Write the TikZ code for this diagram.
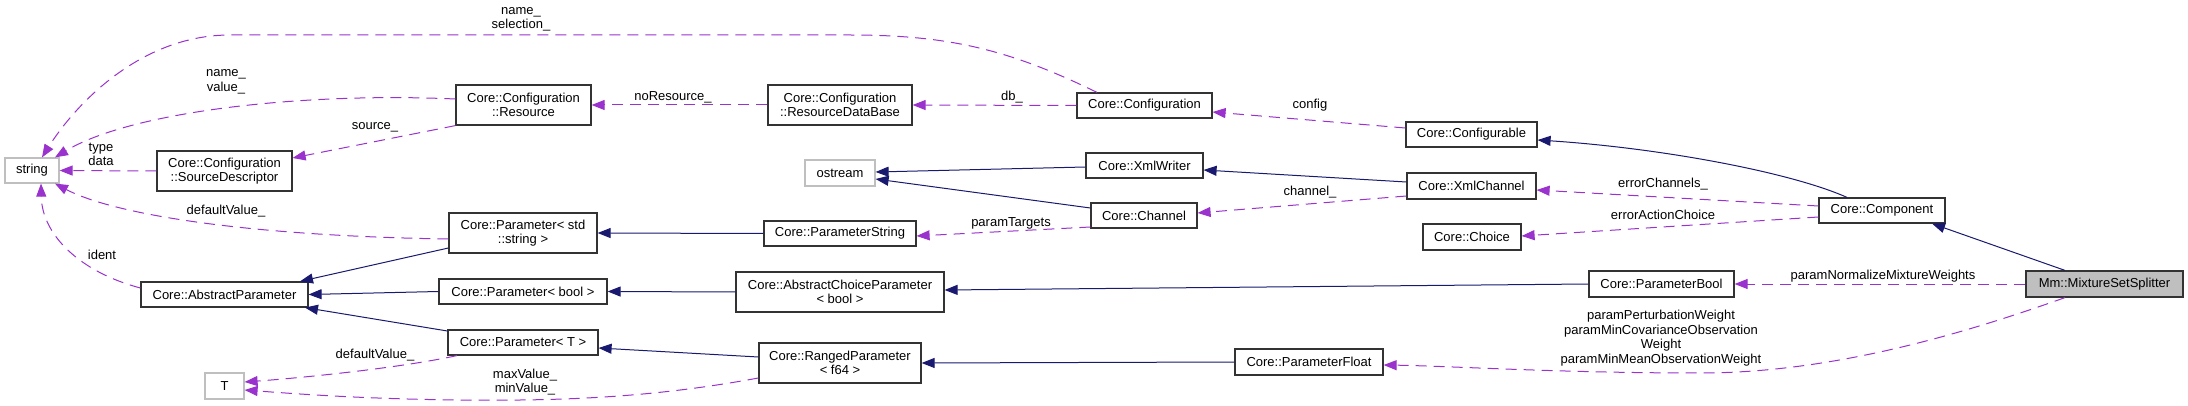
\documentclass[tikz,border=0pt]{standalone}
\usepackage{fontspec}
\setmainfont{Liberation Sans}
\usetikzlibrary{arrows.meta}
\definecolor{dorchid}{HTML}{9A32CD}
\definecolor{mnavy}{HTML}{191970}
\definecolor{nodegray}{HTML}{BFBFBF}
\tikzset{
  txt/.style={font=\fontsize{13}{14.5}\selectfont, align=center},
  cls/.style={txt, draw=black!80, line width=1.2pt, fill=white, inner sep=0pt},
  extcls/.style={txt, draw=nodegray, line width=1.2pt, fill=white, inner sep=0pt},
  maincls/.style={cls, fill=nodegray},
  lbl/.style={txt, inner sep=0pt},
  dep/.style={draw=dorchid, line width=1pt, dash pattern=on 11pt off 7pt,
    -{Triangle[length=13pt,width=10pt,fill=dorchid]}},
  inh/.style={draw=mnavy, line width=1pt,
    -{Triangle[length=13pt,width=10pt,fill=mnavy]}}
}
\begin{document}
\begin{tikzpicture}[x=1pt,y=-1pt]
\useasboundingbox (0,0) rectangle (2188,406);
% nodes
\node[extcls, minimum width=54pt, minimum height=25pt] (str) at (32,170.5) {string};
\node[cls, minimum width=135pt, minimum height=40pt] (sd) at (224.5,171) {Core::Configuration\\::SourceDescriptor};
\node[cls, minimum width=135pt, minimum height=40pt] (res) at (523.5,105) {Core::Configuration\\::Resource};
\node[cls, minimum width=144pt, minimum height=40pt] (rdb) at (840,105) {Core::Configuration\\::ResourceDataBase};
\node[cls, minimum width=135pt, minimum height=25pt] (conf) at (1144.5,105.5) {Core::Configuration};
\node[cls, minimum width=131pt, minimum height=25pt] (cfgb) at (1471.5,134.5) {Core::Configurable};
\node[extcls, minimum width=70pt, minimum height=26pt] (ostr) at (840,173) {ostream};
\node[cls, minimum width=117pt, minimum height=25pt] (xw) at (1144.5,165.5) {Core::XmlWriter};
\node[cls, minimum width=129pt, minimum height=26pt] (xc) at (1471.5,186) {Core::XmlChannel};
\node[cls, minimum width=106pt, minimum height=25pt] (ch) at (1144,215.5) {Core::Channel};
\node[cls, minimum width=98pt, minimum height=26pt] (cho) at (1472,237) {Core::Choice};
\node[cls, minimum width=126pt, minimum height=25pt] (comp) at (1882,210.5) {Core::Component};
\node[maincls, minimum width=157pt, minimum height=26pt] (mss) at (2104.5,284) {Mm::MixtureSetSplitter};
\node[cls, minimum width=145pt, minimum height=26pt] (pb) at (1661.5,284) {Core::ParameterBool};
\node[cls, minimum width=148pt, minimum height=26pt] (pf) at (1309,362) {Core::ParameterFloat};
\node[cls, minimum width=208pt, minimum height=40pt] (acp) at (840,292) {Core::AbstractChoiceParameter\\< bool >};
\node[cls, minimum width=162pt, minimum height=40pt] (rp) at (840,363) {Core::RangedParameter\\< f64 >};
\node[cls, minimum width=152pt, minimum height=25pt] (ps) at (840,233.5) {Core::ParameterString};
\node[cls, minimum width=148pt, minimum height=40pt] (pstr) at (523,233) {Core::Parameter< std\\::string >};
\node[cls, minimum width=168pt, minimum height=25pt] (pbool) at (523,291.5) {Core::Parameter< bool >};
\node[cls, minimum width=150pt, minimum height=25pt] (pT) at (523,342.5) {Core::Parameter< T >};
\node[cls, minimum width=167pt, minimum height=25pt] (ap) at (224.5,294.5) {Core::AbstractParameter};
\node[extcls, minimum width=39pt, minimum height=26pt] (T) at (224.5,386) {T};
% usage (dashed) edges
\draw[dep] (conf.north -| 1097,0) .. controls (1010,50) and (950,35) .. (850,35) -- (230,35) .. controls (140,35) and (75,105) .. (str.north -| 42,0);
\draw[dep] (res.west |- 0,99) .. controls (300,92) and (130,112) .. (str.north -| 55,0);
\draw[dep] (res.south west) -- (sd.east |- 0,158);
\draw[dep] (sd.west) -- (str.east);
\draw[dep] (rdb.west) -- (res.east);
\draw[dep] (conf.west) -- (rdb.east);
\draw[dep] (cfgb.west |- 0,128) -- (conf.east |- 0,112);
\draw[dep] (pstr.west |- 0,239) .. controls (250,236) and (115,215) .. (str.south -| 55,0);
\draw[dep] (ap.west |- 0,288) .. controls (80,272) and (42,235) .. (str.south -| 41,0);
\draw[dep] (xc.west |- 0,196) -- (ch.east |- 0,213);
\draw[dep] (comp.west |- 0,206) -- (xc.east |- 0,190);
\draw[dep] (comp.west |- 0,217) -- (cho.east |- 0,236);
\draw[dep] (ch.west |- 0,227) -- (ps.east |- 0,236);
\draw[dep] (mss.west) -- (pb.east);
\draw[dep] (mss.south -| 2065,0) .. controls (1960,335) and (1830,373) .. (1700,373) .. controls (1560,373) and (1450,366) .. (pf.east |- 0,365);
\draw[dep] (pT.south -| 457,0) .. controls (400,368) and (300,378) .. (T.east |- 0,382);
\draw[dep] (rp.west |- 0,378) .. controls (650,398) and (560,401) .. (460,400) .. controls (360,399) and (285,393) .. (T.east |- 0,390);
% inheritance edges
\draw[inh] (comp.north -| 1847,0) .. controls (1790,172) and (1660,148) .. (cfgb.east |- 0,140);
\draw[inh] (xw.west |- 0,167) -- (ostr.east |- 0,172);
\draw[inh] (xc.west |- 0,182) -- (xw.east |- 0,170);
\draw[inh] (ch.west |- 0,208) -- (ostr.east |- 0,179);
\draw[inh] (mss.north -| 2065,0) -- (comp.south -| 1932,0);
\draw[inh] (pb.west) -- (acp.east |- 0,290);
\draw[inh] (acp.west) -- (pbool.east);
\draw[inh] (pbool.west) -- (ap.east);
\draw[inh] (pstr.west |- 0,248) -- (ap.north -| 300,0);
\draw[inh] (pT.west |- 0,331) -- (ap.south -| 305,0);
\draw[inh] (ps.west) -- (pstr.east);
\draw[inh] (rp.west |- 0,357) -- (pT.east |- 0,348);
\draw[inh] (pf.west) -- (rp.east);
% edge labels
\node[lbl] (l1) at (521,19.5) {name\_\\selection\_};
\node[lbl] (l2) at (226,82) {name\_\\value\_};
\node[lbl] (l3) at (375,127) {source\_};
\node[lbl] (l4) at (101,154.5) {type\\data};
\node[lbl] (l5) at (673,97) {noResource\_};
\node[lbl] (l6) at (1012,97) {db\_};
\node[lbl] (l7) at (1310,105) {config};
\node[lbl] (l8) at (226,211) {defaultValue\_};
\node[lbl] (l9) at (102,255) {ident};
\node[lbl] (l10) at (1310,192) {channel\_};
\node[lbl] (l11) at (1663,184) {errorChannels\_};
\node[lbl] (l12) at (1663,215) {errorActionChoice};
\node[lbl] (l13) at (1011,223) {paramTargets};
\node[lbl] (l14) at (1883,276) {paramNormalizeMixtureWeights};
\node[lbl] (l15) at (1661,338) {paramPerturbationWeight\\paramMinCovarianceObservation\\Weight\\paramMinMeanObservationWeight};
\node[lbl] (l16) at (375,355) {defaultValue\_};
\node[lbl] (l17) at (525,382) {maxValue\_\\minValue\_};
\end{tikzpicture}
\end{document}
